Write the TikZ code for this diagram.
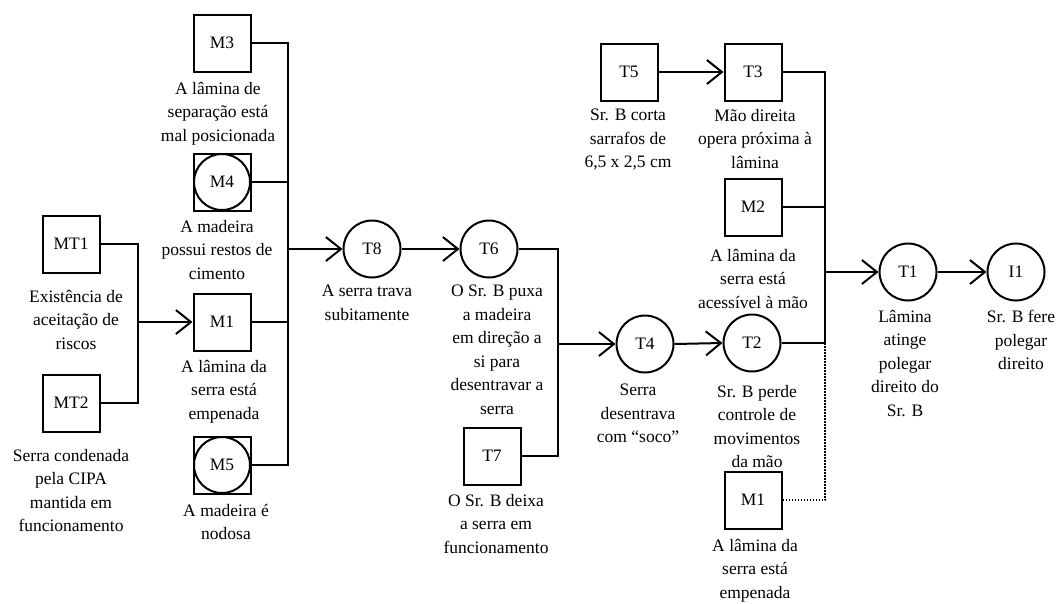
\documentclass[tikz,border=0pt]{standalone}
\usepackage{fontspec}
\setmainfont{Liberation Serif}
\usetikzlibrary{arrows.meta}
\tikzset{
  lw/.style={line width=2pt},
  box/.style={draw, lw, rectangle, minimum size=57pt, inner sep=0pt, font=\fontsize{17.5}{23.5}\selectfont},
  circ/.style={draw, lw, circle, minimum size=57pt, inner sep=0pt, font=\fontsize{17.5}{23.5}\selectfont},
  boxcirc/.style={box, path picture={\draw[lw] (path picture bounding box.center) circle (28pt);}},
  lbl/.style={align=center, inner sep=0pt, anchor=north, font=\fontsize{17.5}{23.5}\selectfont},
  conn/.style={lw},
  arr/.style={lw, -{Straight Barb[length=15pt,width=24pt]}},
  dots/.style={line width=1.6pt, dash pattern=on 1.5pt off 1.5pt},
}
\begin{document}
\begin{tikzpicture}[x=1pt,y=-1pt]
\useasboundingbox (0,0) rectangle (1064,603);
% nodes
\node[box] (m3) at (222,43) {M3};
\node[boxcirc] (m4) at (222,182) {M4};
\node[box] (m1) at (222,322) {M1};
\node[boxcirc] (m5) at (222,465) {M5};
\node[box] (mt1) at (71,244) {MT1};
\node[box] (mt2) at (71,403) {MT2};
\node[circ] (t8) at (372,249) {T8};
\node[circ] (t6) at (489,249) {T6};
\node[box] (t7) at (492,456) {T7};
\node[circ] (t4) at (645,344) {T4};
\node[circ] (t2) at (752,343) {T2};
\node[box] (m1b) at (753,500) {M1};
\node[box] (t5) at (629,72) {T5};
\node[box] (t3) at (753,72) {T3};
\node[box] (m2) at (753,207) {M2};
\node[circ] (t1) at (908,272) {T1};
\node[circ] (i1) at (1016,272) {I1};
% labels
\node[lbl] (lm3) at (218,82) {A lâmina de\\separação está\\mal posicionada};
\node[lbl] (lm4) at (217,220) {A madeira\\possui restos de\\cimento};
\node[lbl] (lm1) at (224,360) {A lâmina da\\serra está\\empenada};
\node[lbl] (lm5) at (226,504) {A madeira é\\nodosa};
\node[lbl] (lmt1) at (76,290) {Existência de\\aceitação de\\riscos};
\node[lbl] (lmt2) at (71,449) {Serra condenada\\pela CIPA\\mantida em\\funcionamento};
\node[lbl] (lt8) at (367,285) {A serra trava\\subitamente};
\node[lbl] (lt6) at (497,285) {O Sr. B puxa\\a madeira\\em direção a\\si para\\desentravar a\\serra};
\node[lbl] (lt7) at (496,494) {O Sr. B deixa\\a serra em\\funcionamento};
\node[lbl] (lt4) at (638,384) {Serra\\desentrava\\com “soco”};
\node[lbl] (lt2) at (757,385) {Sr. B perde\\controle de\\movimentos\\da mão};
\node[lbl] (lm1b) at (755,539) {A lâmina da\\serra está\\empenada};
\node[lbl] (lt5) at (628,109) {Sr. B corta\\sarrafos de\\6,5 x 2,5 cm};
\node[lbl] (lt3) at (755,109) {Mão direita\\opera próxima à\\lâmina};
\node[lbl] (lm2) at (753,249) {A lâmina da\\serra está\\acessível à mão};
\node[lbl] (lt1) at (905,310) {Lâmina\\atinge\\polegar\\direito do\\Sr. B};
\node[lbl] (li1) at (1021,310) {Sr. B fere\\polegar\\direito};
% bus coordinates
\coordinate (b4) at (138,0);
\coordinate (b1) at (288,0);
\coordinate (b3) at (558,0);
\coordinate (b2) at (825,0);
% left bus
\draw[conn] (mt1.east) -- (mt1.east -| b4) -- (mt2.east -| b4) -- (mt2.east);
\draw[arr] (m1.west -| b4) -- (m1.west);
% M bus
\draw[conn] (m3.east) -- (m3.east -| b1) -- (m5.east -| b1) -- (m5.east);
\draw[conn] (m4.east) -- (m4.east -| b1);
\draw[conn] (m1.east) -- (m1.east -| b1);
\draw[arr] (t8.west -| b1) -- (t8.west);
\draw[arr] (t8.east) -- (t6.west);
% T6 bus
\draw[conn] (t6.east) -- (t6.east -| b3) -- (t7.east -| b3) -- (t7.east);
\draw[arr] (t4.west -| b3) -- (t4.west);
\draw[arr] (t4.east) -- (t2.west);
% right bus
\draw[arr] (t5.east) -- (t3.west);
\draw[conn] (t3.east) -- (t3.east -| b2) -- (t2.east -| b2) -- (t2.east);
\draw[conn] (m2.east) -- (m2.east -| b2);
\draw[arr] (t1.west -| b2) -- (t1.west);
\draw[dots] (t2.east -| b2) -- (m1b.east -| b2) -- (m1b.east);
\draw[arr] (t1.east) -- (i1.west);
\end{tikzpicture}
\end{document}
